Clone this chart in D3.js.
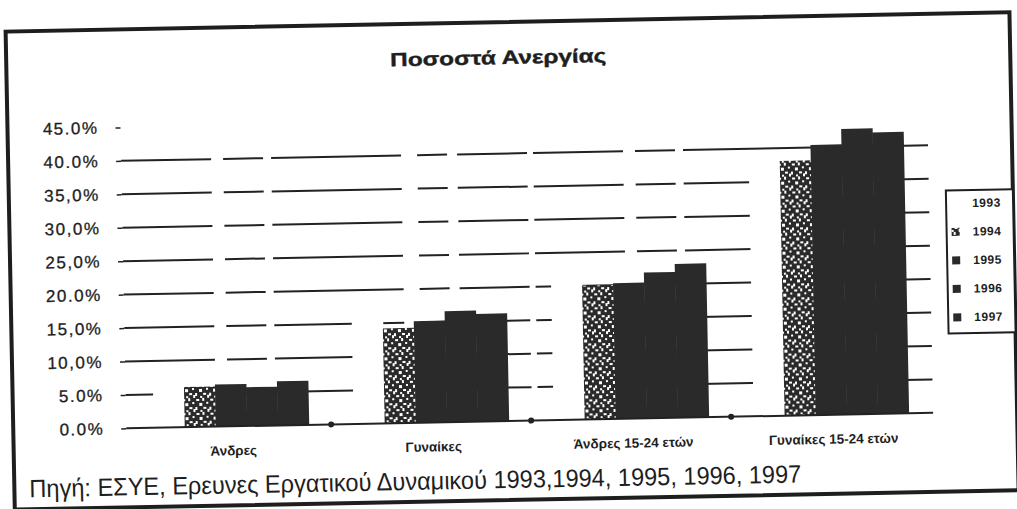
<!DOCTYPE html>
<html lang="el">
<head>
    <meta charset="UTF-8">
    <title>Ποσοστά Ανεργίας</title>
    <script src="https://d3js.org/d3.v7.min.js"></script>
    <style>
        body { margin: 0; background: #fff; }
        text { font-family: "Liberation Sans", Arial, sans-serif; fill: #1e1e1e; }
    </style>
</head>
<body>
    <div id="chart-container"></div>

    <script>
        // Data (percent)
        const categories = ["Άνδρες", "Γυναίκες", "Άνδρες 15-24 ετών", "Γυναίκες 15-24 ετών"];
        const years = ["1993", "1994", "1995", "1996", "1997"];
        const v1993 = [5.9, 15.5, 20.5, 37.0];
        const v1994 = [6.0, 14.2, 20.0, 38.1];
        const v1995 = [6.3, 15.2, 20.3, 40.4];
        const v1996 = [5.8, 16.6, 21.8, 42.7];
        const v1997 = [6.6, 16.1, 23.0, 42.1];
        const yTicks = [0, 5, 10, 15, 20, 25, 30, 35, 40, 45];
        const yTickLabels = ["0.0%", "5.0%", "10,0%", "15,0%", "20.0%", "25,0%", "30,0%", "35,0%", "40.0%", "45.0%"];
        const title = "Ποσοστά Ανεργίας";
        const source = "Πηγή: ΕΣΥΕ, Ερευνες Εργατικού Δυναμικού 1993,1994, 1995, 1996, 1997";

        const series = [v1993, v1994, v1995, v1996, v1997];
        const data = categories.map((c, i) => ({
            cat: c,
            vals: years.map((y, j) => ({ year: y, value: series[j][i] }))
        }));

        const W = 1017, H = 509;
        const svg = d3.select("#chart-container")
            .append("svg")
            .attr("width", W)
            .attr("height", H);

        // speckled fill for the 1994 bars
        const defs = svg.append("defs");
        const pat = defs.append("pattern")
            .attr("id", "speckle")
            .attr("width", 14).attr("height", 14)
            .attr("patternUnits", "userSpaceOnUse");
        pat.append("rect").attr("width", 14).attr("height", 14).attr("fill", "#2a2a2a");
        [[1, 1, 3, 2], [7, 0, 2, 3], [4, 5, 3, 3], [11, 4, 2, 2], [0, 9, 2, 3], [8, 9, 3, 2], [5, 12, 2, 2], [12, 11, 2, 3]]
            .forEach(d => pat.append("rect")
                .attr("x", d[0]).attr("y", d[1]).attr("width", d[2]).attr("height", d[3])
                .attr("fill", "#fff"));

        // the scan is slightly tilted
        const root = svg.append("g").attr("transform", "rotate(-1.1, 508, 255)");

        // frame
        root.append("rect")
            .attr("x", 10).attr("y", 22)
            .attr("width", 1004).attr("height", 478)
            .attr("fill", "none")
            .attr("stroke", "#1e1e1e")
            .attr("stroke-width", 4);

        root.append("text")
            .attr("x", 502).attr("y", 64)
            .attr("text-anchor", "middle")
            .attr("font-size", 19)
            .attr("font-weight", "bold")
            .attr("stroke", "#1e1e1e")
            .attr("stroke-width", 0.4)
            .attr("textLength", 216)
            .attr("lengthAdjust", "spacingAndGlyphs")
            .text(title);

        const x0 = d3.scaleBand()
            .domain(categories)
            .range([128, 928])
            .paddingInner(0.225)
            .paddingOuter(0.1125);

        const x1 = d3.scaleBand()
            .domain(years)
            .range([0, x0.bandwidth()]);

        const y = d3.scaleLinear()
            .domain([0, 45])
            .range([421, 120]);

        // gridlines (broken like the scan)
        root.append("g")
            .selectAll("line")
            .data(yTicks.filter(t => t > 0 && t < 45))
            .enter().append("line")
            .attr("x1", 123).attr("x2", 930)
            .attr("y1", d => y(d)).attr("y2", d => y(d))
            .attr("stroke", "#222")
            .attr("stroke-width", 2)
            .attr("stroke-dasharray", "90 12 40 8 130 16 30 10 70 6");

        // y axis tick marks and labels
        const yAxis = d3.axisLeft(y)
            .tickValues(yTicks)
            .tickSize(5)
            .tickFormat((d, i) => yTickLabels[i]);
        const ya = root.append("g")
            .attr("transform", "translate(123,0)")
            .call(yAxis);
        ya.select(".domain").remove();
        ya.selectAll(".tick line").attr("stroke", "#222").attr("stroke-width", 1.5);
        ya.selectAll(".tick text")
            .attr("x", -22)
            .attr("font-size", 17)
            .attr("letter-spacing", 1.5)
            .attr("fill", "#1e1e1e")
            .attr("stroke", "#1e1e1e")
            .attr("stroke-width", 0.3)
            .style("font-family", "'Liberation Sans', Arial, sans-serif");

        // bars
        const groups = root.append("g")
            .selectAll("g")
            .data(data)
            .enter().append("g")
            .attr("transform", d => `translate(${x0(d.cat)},0)`);

        const fills = { "1993": "#fff", "1994": "url(#speckle)", "1995": "#2a2a2a", "1996": "#2a2a2a", "1997": "#2a2a2a" };

        groups.selectAll("rect")
            .data(d => d.vals)
            .enter().append("rect")
            .attr("x", d => x1(d.year))
            .attr("y", d => y(d.value))
            .attr("width", x1.bandwidth() + 0.5)
            .attr("height", d => y(0) - y(d.value))
            .attr("fill", d => fills[d.year]);

        // x axis
        root.append("line")
            .attr("x1", 123).attr("x2", 930)
            .attr("y1", y(0)).attr("y2", y(0))
            .attr("stroke", "#222")
            .attr("stroke-width", 2);

        root.append("g")
            .selectAll("circle")
            .data(categories.slice(1))
            .enter().append("circle")
            .attr("cx", d => x0(d) - x0.step() * x0.paddingInner() / 2)
            .attr("cy", y(0))
            .attr("r", 3)
            .attr("fill", "#222");

        root.append("g")
            .selectAll("text")
            .data(categories)
            .enter().append("text")
            .attr("x", d => x0(d) + x0.bandwidth() / 2 + 2)
            .attr("y", 450)
            .attr("text-anchor", "middle")
            .attr("font-size", 13.5)
            .attr("font-weight", "bold")
            .text(d => d);

        // legend
        const lg = root.append("g").attr("transform", "translate(947,199)");
        lg.append("rect")
            .attr("width", 67).attr("height", 143)
            .attr("fill", "#fff")
            .attr("stroke", "#1e1e1e")
            .attr("stroke-width", 2);
        const items = lg.selectAll("g")
            .data(years)
            .enter().append("g")
            .attr("transform", (d, i) => `translate(0,${13 + i * 28.5})`);
        items.append("rect")
            .attr("x", 5).attr("y", -4)
            .attr("width", 8).attr("height", 8)
            .attr("fill", d => fills[d]);
        items.append("text")
            .attr("x", 26).attr("y", 4)
            .attr("font-size", 12)
            .attr("font-weight", "bold")
            .attr("letter-spacing", 0.5)
            .text(d => d);

        // source note
        root.append("text")
            .attr("x", 25).attr("y", 488)
            .attr("font-size", 25)
            .attr("textLength", 772)
            .attr("lengthAdjust", "spacingAndGlyphs")
            .style("font-family", "'Liberation Sans Narrow', 'Liberation Sans', Arial, sans-serif")
            .text(source);
    </script>
</body>
</html>
